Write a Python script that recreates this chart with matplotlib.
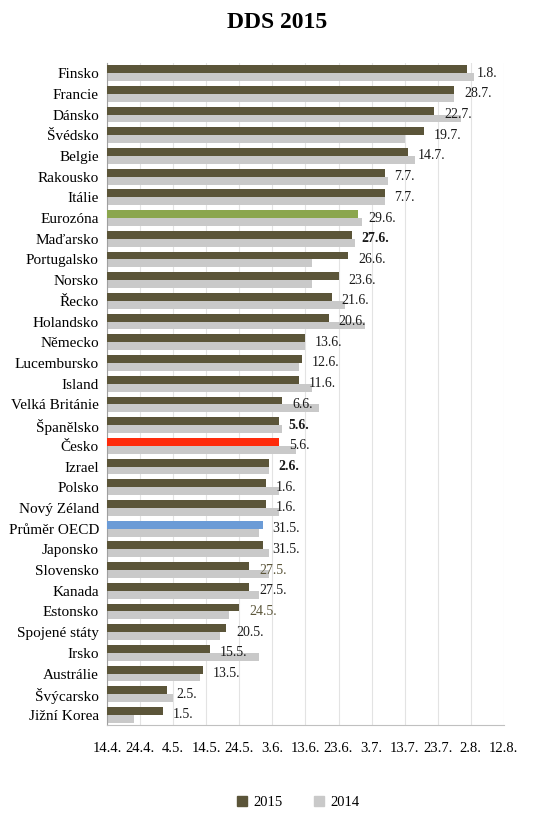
import datetime as dt
import matplotlib
matplotlib.use('Agg')
import matplotlib.pyplot as plt
import matplotlib.dates as mdates
from matplotlib.ticker import FuncFormatter
from matplotlib.patches import Patch

zeme = ['Finsko', 'Francie', 'Dánsko', 'Švédsko', 'Belgie', 'Rakousko', 'Itálie',
        'Eurozóna', 'Maďarsko', 'Portugalsko', 'Norsko', 'Řecko', 'Holandsko',
        'Německo', 'Lucembursko', 'Island', 'Velká Británie', 'Španělsko', 'Česko',
        'Izrael', 'Polsko', 'Nový Zéland', 'Průměr OECD', 'Japonsko', 'Slovensko',
        'Kanada', 'Estonsko', 'Spojené státy', 'Irsko', 'Austrálie', 'Švýcarsko',
        'Jižní Korea']

dds_2015 = ['1.8.', '28.7.', '22.7.', '19.7.', '14.7.', '7.7.', '7.7.',
            '29.6.', '27.6.', '26.6.', '23.6.', '21.6.', '20.6.',
            '13.6.', '12.6.', '11.6.', '6.6.', '5.6.', '5.6.',
            '2.6.', '1.6.', '1.6.', '31.5.', '31.5.', '27.5.',
            '27.5.', '24.5.', '20.5.', '15.5.', '13.5.', '2.5.',
            '1.5.']

# odhad z obrazku
dds_2014 = ['3.8.', '28.7.', '30.7.', '13.7.', '16.7.', '8.7.', '7.7.',
            '30.6.', '28.6.', '15.6.', '15.6.', '25.6.', '1.7.',
            '13.6.', '11.6.', '15.6.', '17.6.', '6.6.', '10.6.',
            '2.6.', '5.6.', '5.6.', '30.5.', '2.6.', '2.6.',
            '30.5.', '21.5.', '18.5.', '30.5.', '12.5.', '4.5.',
            '22.4.']

zvyraznene = {'Eurozóna': '#8ba64e', 'Česko': '#fe2b0b', 'Průměr OECD': '#6b9bd6'}
tucne = ['Maďarsko', 'Španělsko', 'Izrael']
olivove_popisky = ['Slovensko', 'Estonsko']


def na_datum(s):
    d, m = s.strip('.').split('.')
    return dt.date(2015, int(m), int(d))


start = dt.date(2015, 4, 14)
x15 = [mdates.date2num(na_datum(s)) for s in dds_2015]
x14 = [mdates.date2num(na_datum(s)) for s in dds_2014]
x0 = mdates.date2num(start)

olive = '#5b5539'
seda = '#c9c9c9'
serif = ['Liberation Serif', 'DejaVu Serif']

fig = plt.figure(figsize=(5.47, 8.15), dpi=100)
ax = fig.add_axes([0.196, 0.110, 0.725, 0.813])

n = len(zeme)
y = list(range(n))
h = 0.38
barvy = [zvyraznene.get(z, olive) for z in zeme]

ax.barh([i - h / 2 for i in y], [a - x0 for a in x15], left=x0, height=h,
        color=barvy, zorder=3)
ax.barh([i + h / 2 for i in y], [a - x0 for a in x14], left=x0, height=h,
        color=seda, zorder=2)

for i, z in enumerate(zeme):
    ax.annotate(dds_2015[i], (x15[i], i), xytext=(7, 0), textcoords='offset points',
                va='center', ha='left', fontsize=10, family=serif,
                fontweight='bold' if z in tucne else 'normal',
                color=olive if z in olivove_popisky else '#1a1a1a', zorder=4)

ticks = [x0 + 10 * k for k in range(13)]
ax.set_xticks(ticks)
ax.xaxis.set_major_formatter(FuncFormatter(
    lambda v, p: '%d.%d.' % (mdates.num2date(v).day, mdates.num2date(v).month)))
ax.set_xlim(x0, ticks[-1])
ax.set_ylim(n - 0.5, -0.5)
ax.set_yticks(y)
ax.set_yticklabels(zeme, family=serif, fontsize=11)
for lab in ax.get_xticklabels():
    lab.set_family(serif)
    lab.set_fontsize(10.5)
ax.tick_params(axis='both', length=0)
ax.tick_params(axis='x', pad=12)
ax.tick_params(axis='y', pad=6)

ax.grid(axis='x', color='#e3e3e3', linewidth=0.8, zorder=0)
for s in ['top', 'right']:
    ax.spines[s].set_visible(False)
ax.spines['left'].set_color('#a0a0a0')
ax.spines['bottom'].set_color('#c0c0c0')

fig.text(0.507, 0.972, 'DDS 2015', ha='center', va='center', fontsize=17,
         fontweight='bold', family=serif)

fig.legend(handles=[Patch(color=olive, label='2015'), Patch(color=seda, label='2014')],
           loc='center', bbox_to_anchor=(0.545, 0.015), ncol=2, frameon=False,
           prop={'family': serif, 'size': 10.5}, handlelength=0.7, handleheight=0.7,
           columnspacing=2.2, handletextpad=0.4)

fig.savefig('out.png', dpi=100)
